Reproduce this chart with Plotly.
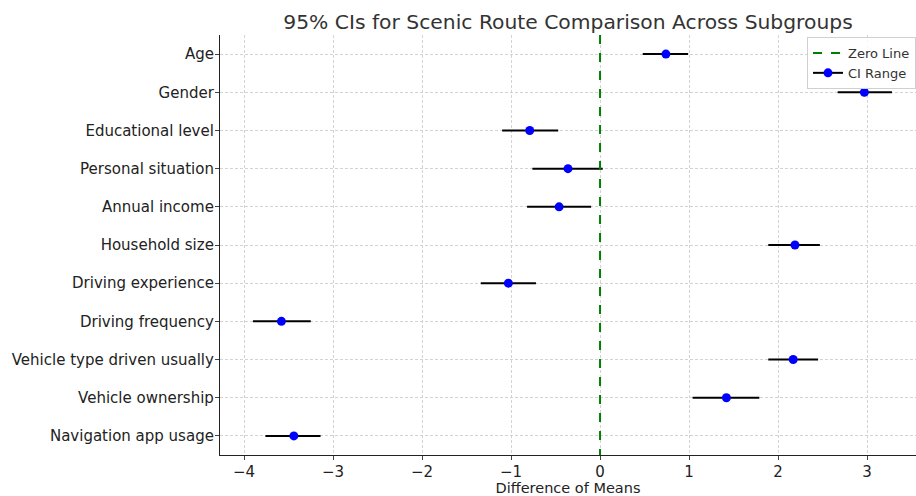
import plotly.graph_objects as go

categories = ["Age", "Gender", "Educational level", "Personal situation", "Annual income",
              "Household size", "Driving experience", "Driving frequency",
              "Vehicle type driven usually", "Vehicle ownership", "Navigation app usage"]
means = [0.74, 2.97, -0.79, -0.36, -0.46, 2.19, -1.03, -3.58, 2.17, 1.42, -3.44]
ci_low = [0.48, 2.67, -1.10, -0.76, -0.82, 1.89, -1.34, -3.90, 1.89, 1.04, -3.76]
ci_high = [0.99, 3.28, -0.47, 0.03, -0.10, 2.47, -0.72, -3.25, 2.45, 1.79, -3.14]
x_ticks = [-4, -3, -2, -1, 0, 1, 2, 3]
x_ticktext = ["\u22124", "\u22123", "\u22122", "\u22121", "0", "1", "2", "3"]

FONT = "DejaVu Sans"
idx = list(range(len(categories)))

fig = go.Figure()

# CI segments
seg_x, seg_y = [], []
for i, lo, hi in zip(idx, ci_low, ci_high):
    seg_x += [lo, hi, None]
    seg_y += [i, i, None]
fig.add_trace(go.Scatter(x=seg_x, y=seg_y, mode="lines",
                         line=dict(color="black", width=2), showlegend=False, hoverinfo="skip"))
# Means
fig.add_trace(go.Scatter(x=means, y=idx, mode="markers",
                         marker=dict(color="blue", size=9), showlegend=False))
# Zero line
fig.add_trace(go.Scatter(x=[0, 0], y=[-0.5, len(categories) - 0.5], mode="lines",
                         line=dict(color="green", width=2, dash="dash"), name="Zero Line"))
# Legend proxy for CI range
fig.add_trace(go.Scatter(x=[None], y=[None], mode="lines+markers",
                         line=dict(color="black", width=2),
                         marker=dict(color="blue", size=9), name="CI Range"))

fig.update_layout(
    width=916, height=496,
    margin=dict(l=220, r=0, t=35, b=41, autoexpand=False),
    paper_bgcolor="white", plot_bgcolor="white",
    font=dict(family=FONT, color="#222222"),
    title=dict(text="95% CIs for Scenic Route Comparison Across Subgroups",
               x=(220 + 916) / 2 / 916, xanchor="center", y=1 - 22 / 496, yanchor="middle",
               font=dict(size=20.3, color="#333333", family=FONT)),
    legend=dict(x=1, xanchor="right", xref="paper", y=1 - 2 / 420, yanchor="top", yref="paper",
                bgcolor="rgba(255,255,255,0.85)", bordercolor="#d0d0d0", borderwidth=1,
                font=dict(size=13, color="#333333", family=FONT),
                itemwidth=30, tracegroupgap=0),
    showlegend=True,
)

grid = dict(showgrid=True, gridcolor="#d3d3d3", griddash="3px,2px", gridwidth=0.8,
            zeroline=False, showline=True, linecolor="#222222", linewidth=1.2,
            ticks="outside", ticklen=4, tickcolor="#444444")

fig.update_xaxes(range=[-4.27, 3.55], tickvals=x_ticks, ticktext=x_ticktext,
                 tickfont=dict(size=15, family=FONT, color="#222222"),
                 ticklabelstandoff=-1,
                 title=dict(text="Difference of Means", font=dict(size=14.5, family=FONT, color="#222222"),
                            standoff=10), **grid)
fig.update_yaxes(range=[len(categories) - 0.5, -0.5], tickvals=idx, ticktext=categories,
                 tickfont=dict(size=15, family=FONT, color="#222222"),
                 ticklabelstandoff=-2, **grid)

fig.write_html("out.html")
